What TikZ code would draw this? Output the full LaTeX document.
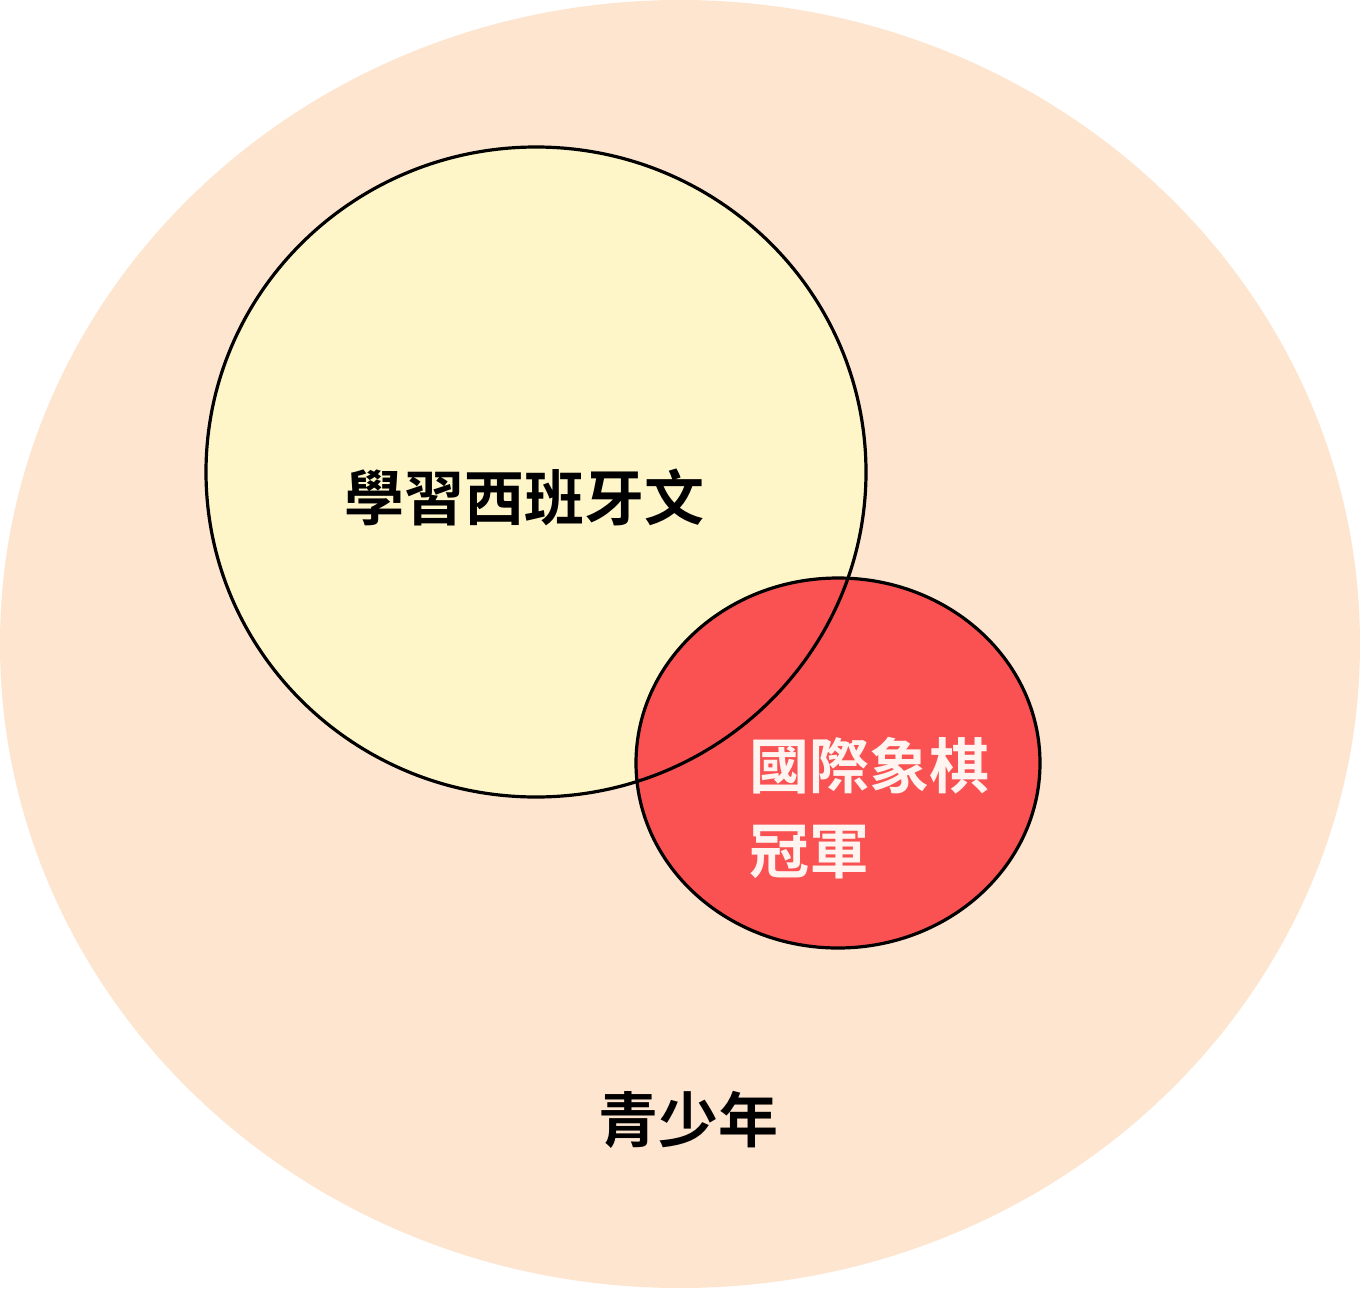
\documentclass[tikz,border=0pt]{standalone}
\usepackage{fontspec}
\setmainfont{Noto Sans CJK TC}[BoldFont={Noto Sans CJK TC Bold}]
\definecolor{peach}{HTML}{FDE5D0}
\definecolor{pale}{HTML}{FEF6C8}
\definecolor{redfill}{HTML}{FA5252}
\definecolor{lighttext}{HTML}{FFF4F0}
\tikzset{
  lbl/.style={font=\bfseries\fontsize{60}{87}\selectfont, inner sep=0pt},
  setline/.style={draw=black, line width=3.2pt}
}
\begin{document}
\begin{tikzpicture}[x=1pt,y=-1pt]
\useasboundingbox (0,0) rectangle (1360,1288);
\fill[peach] (680,644) ellipse [x radius=680, y radius=644];
\fill[pale] (536,472) ellipse [x radius=330, y radius=325];
\filldraw[fill=redfill, setline] (838,763) ellipse [x radius=202, y radius=185];
\draw[setline] (536,472) ellipse [x radius=330, y radius=325];
\node[lbl, text=black] (spanish) at (524,497) {學習西班牙文};
\node[lbl, text=lighttext, anchor=west] (chess1) at (749,766) {國際象棋};
\node[lbl, text=lighttext, anchor=west] (chess2) at (749,852) {冠軍};
\node[lbl, text=black] (teen) at (688,1120) {青少年};
\end{tikzpicture}
\end{document}
